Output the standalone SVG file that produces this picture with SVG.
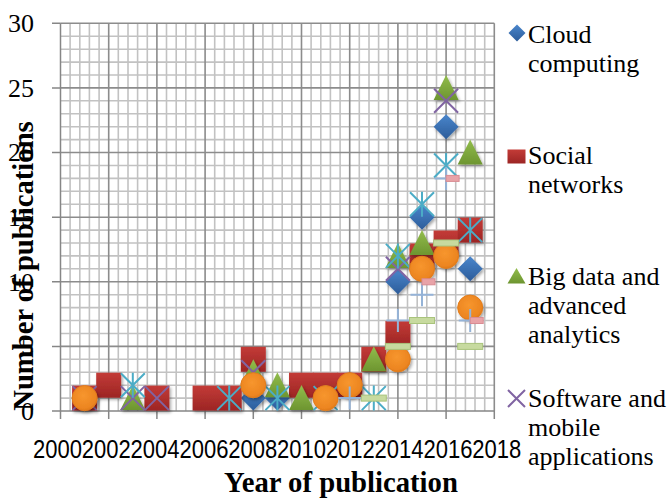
<svg xmlns="http://www.w3.org/2000/svg" xmlns:xlink="http://www.w3.org/1999/xlink" width="672" height="499" viewBox="0 0 672 499">
<style>
.minor{stroke:#c2c2c2;stroke-width:1.6;fill:none}
.major{stroke:#8c8c8c;stroke-width:1.6;fill:none}
.axis{stroke:#868686;stroke-width:1.5;fill:none}
.ytick{font-family:"Liberation Serif","DejaVu Serif",serif;font-weight:400;font-size:26px;fill:#000;text-anchor:end}
.xtick{font-family:"Liberation Sans",Arial,sans-serif;font-size:25px;fill:#000}
.title{font-family:"Liberation Serif","DejaVu Serif",serif;font-size:28.7px;font-weight:bold;fill:#000;text-anchor:middle}
.leg{font-family:"Liberation Serif","DejaVu Serif",serif;font-weight:400;font-size:26px;fill:#000}
.xm{stroke:#8064a2;stroke-width:2;fill:none}
.ast{stroke:#4bacc6;stroke-width:2;fill:none}
.pl{stroke:#95b3d7;stroke-width:2;fill:none}
</style>
<defs>
<linearGradient id="gBlue" x1="0" y1="0" x2="0" y2="1"><stop offset="0" stop-color="#4a86cc"/><stop offset="1" stop-color="#2c5c9a"/></linearGradient>
<linearGradient id="gRed" x1="0" y1="0" x2="0" y2="1"><stop offset="0" stop-color="#c33b37"/><stop offset="1" stop-color="#9c2524"/></linearGradient>
<linearGradient id="gGreen" x1="0" y1="0" x2="0" y2="1"><stop offset="0" stop-color="#92bd4c"/><stop offset="1" stop-color="#6d9530"/></linearGradient>
<radialGradient id="gOrange" cx="0.45" cy="0.4" r="0.6"><stop offset="0" stop-color="#f7962e"/><stop offset="0.85" stop-color="#ec8520"/><stop offset="1" stop-color="#e07a1a"/></radialGradient>
<filter id="sh" x="-40%" y="-40%" width="190%" height="190%"><feDropShadow dx="1.5" dy="2" stdDeviation="1.6" flood-color="#000" flood-opacity="0.35"/></filter>
<path id="mDia" d="M0,-12.5 L12.5,0 L0,12.5 L-12.5,0Z" fill="url(#gBlue)"/>
<rect id="mSq" x="-12.5" y="-12.5" width="25" height="25" fill="url(#gRed)"/>
<path id="mTri" d="M0,-13 L12.5,12 L-12.5,12Z" fill="url(#gGreen)"/>
<path id="mX" class="xm" d="M-12,-12 L12,12 M12,-12 L-12,12"/>
<path id="mAst" class="ast" d="M-12,-12 L12,12 M12,-12 L-12,12 M0,-12.5 L0,12.5"/>
<circle id="mCir" r="12.5" fill="url(#gOrange)" stroke="#e27d1c" stroke-width="1"/>
<path id="mPl" class="pl" d="M-11.5,0 L11.5,0 M0,-11.5 L0,11.5"/>
<rect id="mPk" x="0" y="-3" width="13" height="6" fill="#e8a3a8" stroke="#d98c93" stroke-width="1"/>
<rect id="mDash" x="-12.5" y="-3" width="25" height="6" fill="#c7da9f" stroke="#a9c47c" stroke-width="1"/>
</defs>
<rect width="672" height="499" fill="#fff"/>
<g id="grid">
<path class="minor" d="M70.1,23.3V411M79.8,23.3V411M89.4,23.3V411M99.1,23.3V411M118.3,23.3V411M128,23.3V411M137.6,23.3V411M147.3,23.3V411M166.5,23.3V411M176.2,23.3V411M185.8,23.3V411M195.5,23.3V411M214.7,23.3V411M224.4,23.3V411M234,23.3V411M243.7,23.3V411M262.9,23.3V411M272.6,23.3V411M282.2,23.3V411M291.9,23.3V411M311.1,23.3V411M320.8,23.3V411M330.4,23.3V411M340.1,23.3V411M359.3,23.3V411M369,23.3V411M378.6,23.3V411M388.3,23.3V411M407.5,23.3V411M417.2,23.3V411M426.8,23.3V411M436.5,23.3V411M455.7,23.3V411M465.4,23.3V411M475,23.3V411M484.7,23.3V411
M60.5,398.1H494.3M60.5,385.2H494.3M60.5,372.2H494.3M60.5,359.3H494.3M60.5,333.5H494.3M60.5,320.5H494.3M60.5,307.6H494.3M60.5,294.7H494.3M60.5,268.8H494.3M60.5,255.9H494.3M60.5,243H494.3M60.5,230.1H494.3M60.5,204.2H494.3M60.5,191.3H494.3M60.5,178.4H494.3M60.5,165.5H494.3M60.5,139.6H494.3M60.5,126.7H494.3M60.5,113.8H494.3M60.5,100.8H494.3M60.5,75H494.3M60.5,62.1H494.3M60.5,49.2H494.3M60.5,36.2H494.3"/>
<path class="major" d="M108.7,23.3V411M156.9,23.3V411M205.1,23.3V411M253.3,23.3V411M301.5,23.3V411M349.7,23.3V411M397.9,23.3V411M446.1,23.3V411M494.3,23.3V411
M60.5,346.4H494.3M60.5,281.8H494.3M60.5,217.2H494.3M60.5,152.5H494.3M60.5,87.9H494.3M60.5,23.3H494.3"/>
<path class="axis" d="M60.5,23.3V411H494.3M52,23.3H60.5M52,87.9H60.5M52,152.5H60.5M52,217.2H60.5M52,281.8H60.5M52,346.4H60.5M52,411H60.5M60.5,411V419M108.7,411V419M156.9,411V419M205.1,411V419M253.3,411V419M301.5,411V419M349.7,411V419M397.9,411V419M446.1,411V419M494.3,411V419"/>
</g>
<g id="axis-labels">
<text class="ytick" x="34" y="32">30</text>
<text class="ytick" x="34" y="97">25</text>
<text class="ytick" x="34" y="161">20</text>
<text class="ytick" x="34" y="226">15</text>
<text class="ytick" x="34" y="291">10</text>
<text class="ytick" x="34" y="355">5</text>
<text class="ytick" x="34" y="420">0</text>
<text class="xtick" x="33" y="458" textLength="49" lengthAdjust="spacingAndGlyphs">2000</text>
<text class="xtick" x="81.8" y="458" textLength="49" lengthAdjust="spacingAndGlyphs">2002</text>
<text class="xtick" x="130.6" y="458" textLength="49" lengthAdjust="spacingAndGlyphs">2004</text>
<text class="xtick" x="179.4" y="458" textLength="49" lengthAdjust="spacingAndGlyphs">2006</text>
<text class="xtick" x="228.2" y="458" textLength="49" lengthAdjust="spacingAndGlyphs">2008</text>
<text class="xtick" x="277" y="458" textLength="49" lengthAdjust="spacingAndGlyphs">2010</text>
<text class="xtick" x="325.8" y="458" textLength="49" lengthAdjust="spacingAndGlyphs">2012</text>
<text class="xtick" x="374.6" y="458" textLength="49" lengthAdjust="spacingAndGlyphs">2014</text>
<text class="xtick" x="423.4" y="458" textLength="49" lengthAdjust="spacingAndGlyphs">2016</text>
<text class="xtick" x="472.2" y="458" textLength="49" lengthAdjust="spacingAndGlyphs">2018</text>
<text class="title" x="341" y="492">Year of publication</text>
<text class="title" transform="translate(33,266) rotate(-90)">Number of publications</text>
</g>
<g id="series-cloud" filter="url(#sh)">
<use xlink:href="#mDia" x="253.3" y="398.1"/>
<use xlink:href="#mDia" x="277.4" y="398.1"/>
<use xlink:href="#mDia" x="397.9" y="281.8"/>
<use xlink:href="#mDia" x="422" y="217.2"/>
<use xlink:href="#mDia" x="446.1" y="126.7"/>
<use xlink:href="#mDia" x="470.2" y="268.8"/>
</g>
<g id="series-social" filter="url(#sh)">
<use xlink:href="#mSq" x="84.6" y="398.1"/>
<use xlink:href="#mSq" x="108.7" y="385.2"/>
<use xlink:href="#mSq" x="156.9" y="398.1"/>
<use xlink:href="#mSq" x="205.1" y="398.1"/>
<use xlink:href="#mSq" x="229.2" y="398.1"/>
<use xlink:href="#mSq" x="253.3" y="359.3"/>
<use xlink:href="#mSq" x="301.5" y="385.2"/>
<use xlink:href="#mSq" x="325.6" y="385.2"/>
<use xlink:href="#mSq" x="349.7" y="385.2"/>
<use xlink:href="#mSq" x="373.8" y="359.3"/>
<use xlink:href="#mSq" x="397.9" y="333.5"/>
<use xlink:href="#mSq" x="422" y="255.9"/>
<use xlink:href="#mSq" x="446.1" y="243"/>
<use xlink:href="#mSq" x="470.2" y="230.1"/>
</g>
<g id="series-bigdata" filter="url(#sh)">
<use xlink:href="#mTri" x="132.8" y="398.1"/>
<use xlink:href="#mTri" x="253.3" y="372.2"/>
<use xlink:href="#mTri" x="277.4" y="385.2"/>
<use xlink:href="#mTri" x="301.5" y="398.1"/>
<use xlink:href="#mTri" x="373.8" y="359.3"/>
<use xlink:href="#mTri" x="397.9" y="255.9"/>
<use xlink:href="#mTri" x="422" y="243"/>
<use xlink:href="#mTri" x="446.1" y="87.9"/>
<use xlink:href="#mTri" x="470.2" y="152.5"/>
</g>
<g id="series-software">
<use xlink:href="#mX" x="84.6" y="398.1"/>
<use xlink:href="#mX" x="132.8" y="398.1"/>
<use xlink:href="#mX" x="156.9" y="398.1"/>
<use xlink:href="#mX" x="253.3" y="372.2"/>
<use xlink:href="#mX" x="397.9" y="268.8"/>
<use xlink:href="#mX" x="446.1" y="100.8"/>
</g>
<g id="series-5">
<use xlink:href="#mAst" x="132.8" y="385.2"/>
<use xlink:href="#mAst" x="229.2" y="398.1"/>
<use xlink:href="#mAst" x="277.4" y="398.1"/>
<use xlink:href="#mAst" x="325.6" y="398.1"/>
<use xlink:href="#mAst" x="373.8" y="398.1"/>
<use xlink:href="#mAst" x="397.9" y="255.9"/>
<use xlink:href="#mAst" x="422" y="204.2"/>
<use xlink:href="#mAst" x="446.1" y="165.5"/>
<use xlink:href="#mAst" x="470.2" y="230.1"/>
</g>
<g id="series-6" filter="url(#sh)">
<use xlink:href="#mCir" x="84.6" y="398.1"/>
<use xlink:href="#mCir" x="253.3" y="385.2"/>
<use xlink:href="#mCir" x="325.6" y="398.1"/>
<use xlink:href="#mCir" x="349.7" y="385.2"/>
<use xlink:href="#mCir" x="397.9" y="359.3"/>
<use xlink:href="#mCir" x="422" y="268.8"/>
<use xlink:href="#mCir" x="446.1" y="255.9"/>
<use xlink:href="#mCir" x="470.2" y="307.6"/>
</g>
<g id="series-7">
<use xlink:href="#mPl" x="349.7" y="398.1"/>
<use xlink:href="#mPl" x="397.9" y="320.5"/>
<use xlink:href="#mPl" x="422" y="294.7"/>
<use xlink:href="#mPl" x="446.1" y="178.4"/>
<use xlink:href="#mPl" x="470.2" y="320.5"/>
</g>
<g id="series-8">
<use xlink:href="#mPk" x="422" y="281.8"/>
<use xlink:href="#mPk" x="446.1" y="178.4"/>
<use xlink:href="#mPk" x="470.2" y="320.5"/>
</g>
<g id="series-9">
<use xlink:href="#mDash" x="373.8" y="398.1"/>
<use xlink:href="#mDash" x="397.9" y="346.4"/>
<use xlink:href="#mDash" x="422" y="320.5"/>
<use xlink:href="#mDash" x="446.1" y="243"/>
<use xlink:href="#mDash" x="470.2" y="346.4"/>
</g>
<g id="legend">
<path d="M517,24.5 L525.5,33 L517,41.5 L508.5,33Z" fill="url(#gBlue)"/>
<text class="leg" x="528" y="43">Cloud</text>
<text class="leg" x="528" y="72">computing</text>
<rect x="507.5" y="149.5" width="18" height="14" fill="url(#gRed)"/>
<text class="leg" x="528" y="164">Social</text>
<text class="leg" x="528" y="193">networks</text>
<path d="M516.5,268 L525.5,283.5 L507.5,283.5Z" fill="url(#gGreen)"/>
<text class="leg" x="528" y="285">Big data and</text>
<text class="leg" x="528" y="314">advanced</text>
<text class="leg" x="528" y="343">analytics</text>
<path class="xm" d="M508,390 L525,407 M525,390 L508,407"/>
<text class="leg" x="528" y="407">Software and</text>
<text class="leg" x="528" y="436">mobile</text>
<text class="leg" x="528" y="465">applications</text>
</g>
</svg>
